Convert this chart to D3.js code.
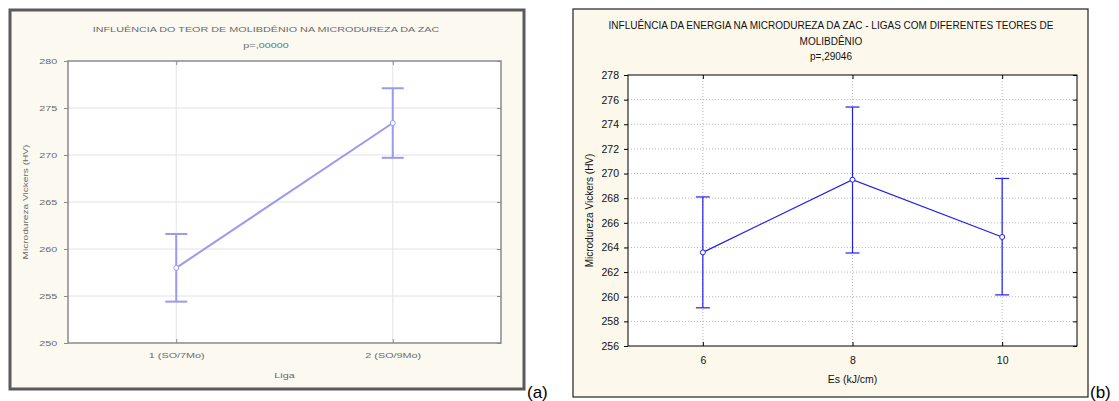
<!DOCTYPE html>
<html>
<head>
<meta charset="utf-8">
<script src="https://cdn.jsdelivr.net/npm/d3@7"></script>
<style>
  body { margin: 0; background: #fff; }
  svg text { font-family: "Liberation Sans", Arial, sans-serif; }
</style>
</head>
<body>
<svg width="1119" height="401"></svg>
<script>
// panel (a) - teor de molibdenio
const ligaCats = [1, 2];
const ligaLabels = ["1 (SO/7Mo)", "2 (SO/9Mo)"];
const ligaMean = [258.0, 273.4];
const ligaLow = [254.4, 269.7];
const ligaHigh = [261.6, 277.1];
const ligaTicks = [250, 255, 260, 265, 270, 275, 280];

// panel (b) - energia
const energyCats = [6, 8, 10];
const energyMean = [263.6, 269.5, 264.85];
const energyLow = [259.1, 263.55, 260.15];
const energyHigh = [268.1, 275.4, 269.6];
const energyTicks = d3.range(256, 279, 2);

const svg = d3.select("svg");

function drawPanel(cfg) {
    const g = svg.append("g");
    const sx = cfg.stretch;

    // outer frame
    g.append("rect")
        .attr("x", cfg.frame[0]).attr("y", cfg.frame[1])
        .attr("width", cfg.frame[2] - cfg.frame[0])
        .attr("height", cfg.frame[3] - cfg.frame[1])
        .attr("fill", cfg.bg)
        .attr("stroke", cfg.frameColor)
        .attr("stroke-width", cfg.frameWidth);

    const x = d3.scaleLinear().domain(cfg.xDomain).range([cfg.plot.left, cfg.plot.right]);
    const y = d3.scaleLinear().domain(cfg.yDomain).range([cfg.plot.bottom, cfg.plot.top]);

    g.append("rect")
        .attr("x", cfg.plot.left).attr("y", cfg.plot.top)
        .attr("width", cfg.plot.right - cfg.plot.left)
        .attr("height", cfg.plot.bottom - cfg.plot.top)
        .attr("fill", "#fff");

    // grid
    g.append("g").selectAll("line")
        .data(cfg.yTicks.slice(1, -1))
        .enter().append("line")
        .attr("x1", cfg.plot.left).attr("x2", cfg.plot.right)
        .attr("y1", d => y(d)).attr("y2", d => y(d))
        .attr("stroke", cfg.gridColor)
        .attr("stroke-dasharray", cfg.gridDash);
    g.append("g").selectAll("line")
        .data(cfg.xs)
        .enter().append("line")
        .attr("y1", cfg.plot.top).attr("y2", cfg.plot.bottom)
        .attr("x1", d => x(d)).attr("x2", d => x(d))
        .attr("stroke", cfg.gridColor)
        .attr("stroke-dasharray", cfg.gridDash);

    // axes on all four sides, statistica style
    const left = d3.axisLeft(y).tickValues(cfg.yTicks).tickSize(4).tickPadding(cfg.yPad);
    const right = d3.axisLeft(y).tickValues(cfg.yTicks).tickSize(4).tickFormat("");
    const bottom = d3.axisBottom(x).tickValues(cfg.xs).tickSize(-4).tickPadding(cfg.xPad)
        .tickFormat((d, i) => cfg.xLabels[i]);
    const top = d3.axisBottom(x).tickValues(cfg.xs).tickSize(4).tickFormat("");

    function styleAxis(sel) {
        sel.select(".domain").remove();
        sel.selectAll("line").attr("stroke", cfg.axisColor);
        sel.selectAll("text")
            .attr("fill", cfg.textColor)
            .attr("font-size", cfg.tickFont)
            .attr("transform", `scale(${sx},1)`);
    }
    g.append("g").attr("transform", `translate(${cfg.plot.left},0)`).call(left).call(styleAxis);
    g.append("g").attr("transform", `translate(${cfg.plot.right},0)`).call(right).call(styleAxis);
    g.append("g").attr("transform", `translate(0,${cfg.plot.bottom})`).call(bottom).call(styleAxis);
    g.append("g").attr("transform", `translate(0,${cfg.plot.top})`).call(top).call(styleAxis);

    g.append("rect")
        .attr("x", cfg.plot.left).attr("y", cfg.plot.top)
        .attr("width", cfg.plot.right - cfg.plot.left)
        .attr("height", cfg.plot.bottom - cfg.plot.top)
        .attr("fill", "none")
        .attr("stroke", cfg.axisColor)
        .attr("stroke-width", cfg.plotStroke);

    // titles
    const cx = (cfg.plot.left + cfg.plot.right) / 2;
    cfg.title.forEach((t, i) => {
        g.append("text")
            .attr("transform", `translate(${cfg.titleX},${cfg.titleY + i * cfg.titleStep}) scale(${sx},1)`)
            .attr("text-anchor", "middle")
            .attr("font-size", cfg.titleFont)
            .attr("fill", cfg.textColor)
            .text(t);
    });
    g.append("text")
        .attr("transform", `translate(${cx},${cfg.xLabelY}) scale(${sx},1)`)
        .attr("text-anchor", "middle")
        .attr("font-size", cfg.tickFont)
        .attr("fill", cfg.textColor)
        .text(cfg.xTitle);
    g.append("text")
        .attr("transform", `translate(${cfg.yLabelX},${(cfg.plot.top + cfg.plot.bottom) / 2}) rotate(-90) scale(${sx},1)`)
        .attr("text-anchor", "middle")
        .attr("font-size", cfg.yTitleFont)
        .attr("fill", cfg.textColor)
        .text(cfg.yTitle);

    // mean line, error bars, markers
    const pts = cfg.xs.map((d, i) => ({ x: d, m: cfg.mean[i], lo: cfg.low[i], hi: cfg.high[i] }));
    g.append("path")
        .datum(pts)
        .attr("fill", "none")
        .attr("stroke", cfg.color)
        .attr("stroke-width", cfg.lineWidth)
        .attr("d", d3.line().x(d => x(d.x)).y(d => y(d.m)));

    const bars = g.append("g").selectAll("g")
        .data(pts)
        .enter().append("g")
        .attr("stroke", cfg.color)
        .attr("stroke-width", cfg.lineWidth);
    bars.append("line")
        .attr("x1", d => x(d.x)).attr("x2", d => x(d.x))
        .attr("y1", d => y(d.lo)).attr("y2", d => y(d.hi));
    bars.append("line")
        .attr("x1", d => x(d.x) - cfg.cap).attr("x2", d => x(d.x) + cfg.cap)
        .attr("y1", d => y(d.hi)).attr("y2", d => y(d.hi));
    bars.append("line")
        .attr("x1", d => x(d.x) - cfg.cap).attr("x2", d => x(d.x) + cfg.cap)
        .attr("y1", d => y(d.lo)).attr("y2", d => y(d.lo));
    bars.append("circle")
        .attr("cx", d => x(d.x)).attr("cy", d => y(d.m))
        .attr("r", 2.5)
        .attr("fill", "#fff")
        .attr("stroke-width", 1);

    svg.append("text")
        .attr("x", cfg.tag[0]).attr("y", cfg.tag[1])
        .attr("font-size", 17)
        .attr("fill", "#000")
        .text(cfg.tagText);
}

drawPanel({
    frame: [10, 10, 524, 389],
    bg: "#fcf9f0",
    frameColor: "#5a5a5a",
    frameWidth: 3,
    plot: { left: 68, right: 501, top: 61, bottom: 343 },
    xDomain: [0.5, 2.5],
    yDomain: [250, 280],
    xs: ligaCats,
    xLabels: ligaLabels,
    yTicks: ligaTicks,
    mean: ligaMean, low: ligaLow, high: ligaHigh,
    gridColor: "#e2e2ea",
    gridDash: null,
    axisColor: "#8a8a8a",
    plotStroke: 1.5,
    textColor: "#6a6a6a",
    stretch: 1.35,
    tickFont: 8,
    yPad: 4,
    xPad: 9,
    titleFont: 8,
    yTitleFont: 7.5,
    title: ["INFLUÊNCIA DO TEOR DE MOLIBDÊNIO NA MICRODUREZA DA ZAC", "p=,00000"],
    titleX: 266, titleY: 32, titleStep: 16,
    xTitle: "Liga", xLabelY: 378,
    yTitle: "Microdureza Vickers (HV)", yLabelX: 28,
    color: "#9a9aee",
    lineWidth: 2,
    cap: 11,
    tag: [527, 398], tagText: "(a)"
});

drawPanel({
    frame: [573, 9, 1088, 397],
    bg: "#fdf8ec",
    frameColor: "#222",
    frameWidth: 1.2,
    plot: { left: 628, right: 1077, top: 75, bottom: 346 },
    xDomain: [5, 11],
    yDomain: [256, 278],
    xs: energyCats,
    xLabels: energyCats.map(String),
    yTicks: energyTicks,
    mean: energyMean, low: energyLow, high: energyHigh,
    gridColor: "#b8b8b8",
    gridDash: "1,2",
    axisColor: "#000",
    plotStroke: 1,
    textColor: "#111",
    stretch: 1,
    tickFont: 10.5,
    yPad: 5,
    xPad: 11,
    titleFont: 10,
    yTitleFont: 10,
    title: ["INFLUÊNCIA DA ENERGIA NA MICRODUREZA DA ZAC - LIGAS COM DIFERENTES TEORES DE", "MOLIBDÊNIO", "p=,29046"],
    titleX: 831, titleY: 29, titleStep: 15.5,
    xTitle: "Es (kJ/cm)", xLabelY: 383,
    yTitle: "Microdureza Vickers (HV)", yLabelX: 593,
    color: "#1f1fee",
    lineWidth: 1.2,
    cap: 7,
    tag: [1090, 398], tagText: "(b)"
});
</script>
</body>
</html>
